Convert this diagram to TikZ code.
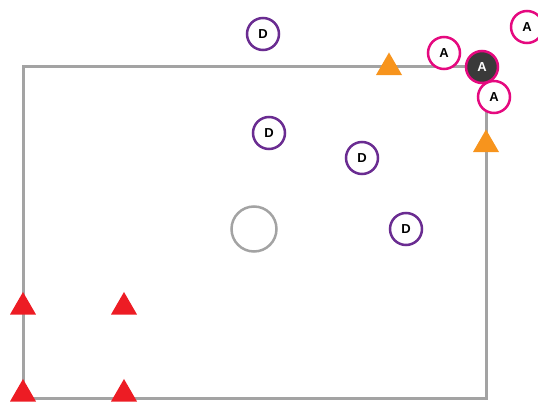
\documentclass[tikz,border=0pt]{standalone}
\usepackage{fontspec}
\setmainfont{Liberation Sans}
\definecolor{fieldgray}{HTML}{A3A3A3}
\definecolor{dpurple}{HTML}{6A2C91}
\definecolor{amag}{HTML}{E5097F}
\definecolor{darkfill}{HTML}{3A3A3A}
\definecolor{conorange}{HTML}{F7941D}
\definecolor{conred}{HTML}{ED1C24}
\usetikzlibrary{shapes.geometric}
\tikzset{
  dplayer/.style={circle, draw=dpurple, line width=2.5pt, fill=white, minimum size=32pt, inner sep=0pt, font=\fontsize{13}{13}\selectfont\bfseries, text=black},
  aplayer/.style={circle, draw=amag, line width=2.5pt, fill=white, minimum size=32pt, inner sep=0pt, font=\fontsize{13}{13}\selectfont\bfseries, text=black},
  aball/.style={aplayer, fill=darkfill, text=white},
  cone/.style={isosceles triangle, shape border rotate=90, isosceles triangle apex angle=60, draw=none, inner sep=0pt, minimum height=22pt, minimum width=26pt},
}
\begin{document}
\begin{tikzpicture}[x=1pt,y=-1pt]
\useasboundingbox (0,0) rectangle (538,403);
\coordinate (tl) at (23,67);
\coordinate (br) at (486,398);
\draw[fieldgray, line width=3pt] (tl) rectangle (br);
\node[circle, draw=fieldgray, line width=2.5pt, minimum size=45pt] (center) at (254,229) {};
% cones
\node[cone, fill=conorange] (o1) at (389,67.5) {};
\node[cone, fill=conorange] (o2) at (486,144.5) {};
\node[cone, fill=conred] (r1) at (23,307) {};
\node[cone, fill=conred] (r2) at (124,307) {};
\node[cone, fill=conred] (r3) at (23,394) {};
\node[cone, fill=conred] (r4) at (124,394) {};
% defenders
\node[dplayer] (d1) at (263,34) {D};
\node[dplayer] (d2) at (269,133) {D};
\node[dplayer] (d3) at (362,158) {D};
\node[dplayer] (d4) at (406,229) {D};
% attackers
\node[aplayer] (a1) at (444,53) {A};
\node[aplayer] (a3) at (494,97) {A};
\node[aball] (a2) at (482,67) {A};
\node[aplayer] (a4) at (527,27) {A};
\end{tikzpicture}
\end{document}
